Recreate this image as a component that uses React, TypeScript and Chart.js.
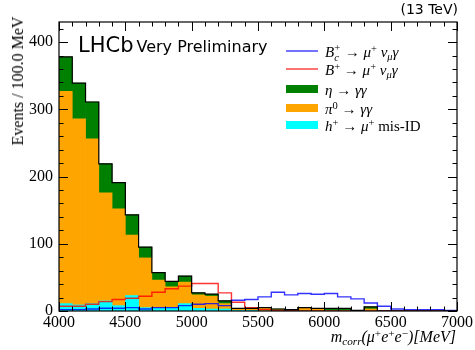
import React, { useEffect, useRef } from "react";
import { Chart, registerables } from "chart.js";
Chart.register(...registerables);

// Bin lower edges (MeV), bin width 100 MeV
const binLow = [
  4000, 4100, 4200, 4300, 4400, 4500, 4600, 4700, 4800, 4900,
  5000, 5100, 5200, 5300, 5400, 5500, 5600, 5700, 5800, 5900,
  6000, 6100, 6200, 6300, 6400, 6500, 6600, 6700, 6800, 6900,
];
const BIN_WIDTH = 100;

// Stacked components
const hMisID = [11, 9, 11, 15, 8, 23, 5, 4, 5, 11, 4, 3, 3, 1, 1, 0, 0, 0, 0, 0, 0, 0, 0, 0, 0, 0, 0, 0, 0, 0];
const pi0 = [316, 277, 245, 161, 144, 90, 74, 42, 31, 32, 20, 19, 8, 2, 2, 4, 2, 2, 5, 4, 1, 1, 0, 3, 0, 0, 0, 0, 0, 0];
const eta = [51, 53, 55, 43, 39, 30, 16, 11, 8, 9, 3, 3, 4, 1, 1, 1, 1, 0, 0, 0, 3, 3, 1, 3, 0, 0, 0, 0, 0, 0];

// Overlaid signal shapes
const bPlus = [7, 7, 10, 14, 17, 19, 22, 28, 33, 37, 41, 41, 27, 13, 5, 2, 1, 1, 0, 0, 0, 0, 0, 0, 0, 0, 0, 0, 0, 0];
const bcPlus = [2, 2, 3, 4, 4, 5, 3, 5, 5, 8, 10, 11, 8, 16, 17, 21, 28, 24, 26, 25, 26, 21, 18, 12, 7, 3, 2, 2, 2, 1];

const xTicks = [4000, 4500, 5000, 5500, 6000, 6500, 7000];
const yTicks = [0, 100, 200, 300, 400];
const X_MIN = 4000, X_MAX = 7000, Y_MIN = 0, Y_MAX = 430;
const X_MINOR = 100, Y_MINOR = 20;

const barData = (arr: number[]) => binLow.map((lo, i) => ({ x: lo + BIN_WIDTH / 2, y: arr[i] }));
const stepData = (arr: number[]) =>
  binLow.map((lo, i) => ({ x: lo, y: arr[i] })).concat([{ x: binLow[binLow.length - 1] + BIN_WIDTH, y: arr[arr.length - 1] }]);
const totals = binLow.map((_, i) => hMisID[i] + pi0[i] + eta[i]);

const SERIF = "'Liberation Serif', 'DejaVu Serif', serif";
const SANS = "'DejaVu Sans', 'Liberation Sans', sans-serif";

const frameTicks = {
  id: "frameTicks",
  afterDatasetsDraw(chart: any) {
    const { ctx, chartArea: a, scales } = chart;
    const xs = scales.x, ys = scales.y;
    ctx.save();
    ctx.strokeStyle = "#000";
    ctx.lineWidth = 1;
    ctx.beginPath();
    for (let v = X_MIN; v <= X_MAX; v += X_MINOR) {
      const px = Math.round(xs.getPixelForValue(v)) + 0.5;
      const len = xTicks.includes(v) ? 9 : 4.5;
      ctx.moveTo(px, a.bottom); ctx.lineTo(px, a.bottom - len);
      ctx.moveTo(px, a.top); ctx.lineTo(px, a.top + len);
    }
    for (let v = Y_MIN; v <= Y_MAX; v += Y_MINOR) {
      const py = Math.round(ys.getPixelForValue(v)) + 0.5;
      const len = yTicks.includes(v) ? 9 : 4.5;
      ctx.moveTo(a.left, py); ctx.lineTo(a.left + len, py);
      ctx.moveTo(a.right, py); ctx.lineTo(a.right - len, py);
    }
    ctx.stroke();
    ctx.lineWidth = 1.2;
    ctx.strokeRect(a.left, a.top, a.right - a.left, a.bottom - a.top);
    ctx.restore();
  },
};

function SubSup({ sub, sup }: { sub?: React.ReactNode; sup?: React.ReactNode }) {
  return (
    <span style={{ display: "inline-block", position: "relative", verticalAlign: "baseline", width: "0.45em", height: "1em" }}>
      {sup !== undefined && (
        <span style={{ position: "absolute", left: 0, top: "-0.35em", fontSize: "0.7em", fontStyle: "normal" }}>{sup}</span>
      )}
      {sub !== undefined && (
        <span style={{ position: "absolute", left: 0, top: "0.55em", fontSize: "0.7em" }}>{sub}</span>
      )}
    </span>
  );
}
const Sup = ({ children }: { children: React.ReactNode }) => (
  <span style={{ fontSize: "0.7em", verticalAlign: "0.45em", lineHeight: 0, fontStyle: "normal" }}>{children}</span>
);
const Sub = ({ children }: { children: React.ReactNode }) => (
  <span style={{ fontSize: "0.7em", verticalAlign: "-0.3em", lineHeight: 0 }}>{children}</span>
);

export default function App() {
  const ref = useRef<HTMLCanvasElement>(null);
  useEffect(() => {
    if (!ref.current) return;
    const chart = new Chart(ref.current, {
      type: "bar",
      data: {
        datasets: [
          { type: "line", label: "total", data: stepData(totals), stepped: "before", borderColor: "#000", borderWidth: 1.2, pointRadius: 0, fill: false, stack: "l0", order: 0 } as any,
          { type: "line", label: "Bc", data: stepData(bcPlus), stepped: "before", borderColor: "rgba(0,0,255,0.8)", borderWidth: 1.4, pointRadius: 0, fill: false, stack: "l1", order: 1 } as any,
          { type: "line", label: "B", data: stepData(bPlus), stepped: "before", borderColor: "rgba(255,0,0,0.8)", borderWidth: 1.4, pointRadius: 0, fill: false, stack: "l2", order: 1 } as any,
          { type: "bar", label: "h", data: barData(hMisID), backgroundColor: "#00ffff", borderWidth: 0, grouped: false, stack: "bg", order: 3 } as any,
          { type: "bar", label: "pi0", data: barData(pi0), backgroundColor: "#ffa500", borderWidth: 0, grouped: false, stack: "bg", order: 3 } as any,
          { type: "bar", label: "eta", data: barData(eta), backgroundColor: "#008000", borderWidth: 0, grouped: false, stack: "bg", order: 3 } as any,
        ],
      },
      options: {
        animation: false,
        responsive: false,
        maintainAspectRatio: false,
        datasets: { bar: { barPercentage: 1, categoryPercentage: 1 } },
        layout: { padding: { top: 22, right: 18, left: 0, bottom: 0 } },
        plugins: { legend: { display: false }, tooltip: { enabled: false } },
        scales: {
          x: {
            type: "linear",
            min: X_MIN,
            max: X_MAX,
            offset: false,
            grid: { display: false, drawTicks: false },
            border: { display: false },
            afterBuildTicks: (s: any) => { s.ticks = xTicks.map((v) => ({ value: v })); },
            afterFit: (s: any) => { s.height = 39; },
            ticks: { padding: 2, maxRotation: 0, autoSkip: false, color: "#000", font: { family: SERIF, size: 16 }, callback: (v: any) => String(v) },
          },
          y: {
            type: "linear",
            min: Y_MIN,
            max: Y_MAX,
            stacked: true,
            grid: { display: false, drawTicks: false },
            border: { display: false },
            afterBuildTicks: (s: any) => { s.ticks = yTicks.map((v) => ({ value: v })); },
            afterFit: (s: any) => { s.width = 59; },
            ticks: { padding: 6, color: "#000", font: { family: SERIF, size: 16 }, callback: (v: any) => String(v) },
          },
        },
      } as any,
      plugins: [frameTicks],
    });
    return () => chart.destroy();
  }, []);

  const legendRow = (top: number, text: React.ReactNode) => (
    <div style={{ position: "absolute", left: 325, top: top - 10, height: 20, lineHeight: "20px", fontFamily: SERIF, fontSize: 15, fontStyle: "italic", whiteSpace: "nowrap" }}>{text}</div>
  );

  return (
    <div style={{ position: "fixed", left: 0, top: 0, width: 475, height: 350, background: "#fff" }}>
      <canvas ref={ref} width={475} height={350} style={{ position: "absolute", left: 0, top: 0, width: 475, height: 350 }} />
      <div style={{ position: "absolute", left: 18, top: 81, transform: "translate(-50%, -50%) rotate(-90deg)", fontFamily: SERIF, fontSize: 16, whiteSpace: "nowrap" }}>
        Events / 100.0 MeV
      </div>
      <div style={{ position: "absolute", right: 19, top: 328, fontFamily: SERIF, fontSize: 16, fontStyle: "italic", whiteSpace: "nowrap", lineHeight: "18px" }}>
        m<Sub>corr</Sub>(μ<Sup>+</Sup>e<Sup>+</Sup>e<Sup>−</Sup>)[MeV]
      </div>
      <div style={{ position: "absolute", right: 17, top: 1, fontFamily: SANS, fontSize: 14, whiteSpace: "nowrap" }}>(13 TeV)</div>
      <div style={{ position: "absolute", left: 78, top: 32, fontFamily: SANS, whiteSpace: "nowrap", lineHeight: "26px" }}>
        <span style={{ fontSize: 21 }}>LHCb</span>
        <span style={{ fontSize: 16, marginLeft: 3 }}>Very Preliminary</span>
      </div>
      <div style={{ position: "absolute", left: 286, top: 50, width: 32, height: 2, background: "rgba(0,0,255,0.55)" }} />
      <div style={{ position: "absolute", left: 286, top: 68, width: 32, height: 2, background: "rgba(255,0,0,0.55)" }} />
      <div style={{ position: "absolute", left: 286, top: 85, width: 32, height: 8, background: "#008000" }} />
      <div style={{ position: "absolute", left: 286, top: 104, width: 32, height: 8, background: "#ffa500" }} />
      <div style={{ position: "absolute", left: 286, top: 121, width: 32, height: 8, background: "#00ffff" }} />
      {legendRow(52, <>B<SubSup sub="c" sup="+" /> → μ<Sup>+</Sup> ν<Sub>μ</Sub>γ</>)}
      {legendRow(70, <>B<Sup>+</Sup> → μ<Sup>+</Sup> ν<Sub>μ</Sub>γ</>)}
      {legendRow(90, <>η → γγ</>)}
      {legendRow(109, <>π<Sup>0</Sup> → γγ</>)}
      {legendRow(126, <>h<Sup>+</Sup> → μ<Sup>+</Sup> <span style={{ fontStyle: "normal" }}>mis-ID</span></>)}
    </div>
  );
}
